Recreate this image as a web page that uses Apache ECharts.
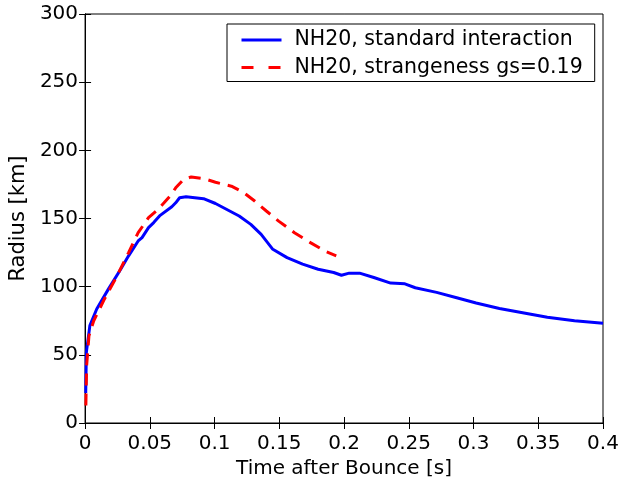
<!DOCTYPE html>
<html>
<head>
<meta charset="utf-8">
<script src="https://cdn.jsdelivr.net/npm/echarts@6/dist/echarts.min.js"></script>
<style>html,body{margin:0;padding:0;background:#fff;}#c{width:623px;height:484px;}</style>
</head>
<body>
<div id="c"></div>
<script>
const xTicks = [0, 0.05, 0.1, 0.15, 0.2, 0.25, 0.3, 0.35, 0.4];
const yTicks = [0, 50, 100, 150, 200, 250, 300];
const seriesNames = ['NH20, standard interaction', 'NH20, strangeness gs=0.19'];

const tStandard = [0.0005, 0.001, 0.0037, 0.009, 0.018, 0.0275, 0.0336, 0.041, 0.044, 0.049, 0.053, 0.058, 0.067, 0.070, 0.073, 0.078, 0.0915, 0.1007, 0.119, 0.128, 0.136, 0.145, 0.156, 0.168, 0.18, 0.192, 0.198, 0.204, 0.212, 0.223, 0.236, 0.247, 0.255, 0.2715, 0.287, 0.302, 0.32, 0.339, 0.357, 0.378, 0.4];
const rStandard = [22, 52, 71.4, 83.6, 98.2, 112.8, 122.6, 133.5, 136, 143.3, 147, 152.3, 158.6, 161.5, 165.2, 166, 164.5, 161, 151.8, 145.7, 138.4, 127.4, 121.3, 116.5, 112.8, 110.4, 108.4, 109.9, 109.9, 106.7, 102.6, 102.1, 99.2, 95.8, 91.9, 88, 84, 80.7, 77.5, 75, 73.1];

const tStrange = [0.0006, 0.0012, 0.003, 0.0067, 0.015, 0.024, 0.0336, 0.041, 0.049, 0.055, 0.061, 0.0656, 0.070, 0.076, 0.082, 0.0915, 0.1007, 0.113, 0.122, 0.131, 0.140, 0.1495, 0.1617, 0.174, 0.186, 0.194];
const rStrange = [12.9, 42, 64, 75, 91, 106.7, 125, 139.6, 150.6, 155.5, 161.5, 166.4, 172.5, 178.6, 180.5, 179.3, 176.6, 173.7, 169.3, 162.8, 155.5, 148.1, 139.6, 132.3, 125.7, 122.6];

const zip = (a, b) => a.map((v, i) => [v, b[i]]);
const FONT = '"DejaVu Sans", Verdana, sans-serif';

const chart = echarts.init(document.getElementById('c'), null, {renderer: 'canvas'});
const axisCommon = {
  axisLine: {show: true, lineStyle: {color: '#000', width: 1}},
  axisTick: {show: true, inside: true, length: 6, lineStyle: {color: '#000'}},
  splitLine: {show: false}
};
chart.setOption({
  animation: false,
  backgroundColor: '#fff',
  grid: {left: 84, right: 20, top: 14, bottom: 60, show: true, borderColor: '#000', borderWidth: 1},
  legend: {
    data: [
      {name: seriesNames[0], itemStyle: {opacity: 0}, lineStyle: {color: '#0000ff', width: 3, type: 'solid'}},
      {name: seriesNames[1], itemStyle: {opacity: 0}, lineStyle: {color: '#ff0000', width: 3, type: [12, 15]}}
    ],
    orient: 'vertical',
    left: 227, top: 24,
    padding: [5, 12, 3, 13],
    borderColor: '#000', borderWidth: 1, borderRadius: 0,
    backgroundColor: '#fff',
    itemWidth: 40, itemHeight: 14, itemGap: 5.5,
    textStyle: {fontSize: 20.5, lineHeight: 22, color: '#000', fontFamily: FONT, padding: [0, 0, 0, 8]}
  },
  xAxis: [
    Object.assign({}, axisCommon, {
      type: 'value', min: xTicks[0], max: xTicks[xTicks.length - 1], interval: xTicks[1] - xTicks[0],
      name: 'Time after Bounce [s]', nameLocation: 'middle', nameGap: 36,
      nameTextStyle: {fontSize: 20, color: '#000', fontFamily: FONT},
      axisLabel: {fontSize: 20, color: '#000', fontFamily: FONT, margin: 11}
    }),
    Object.assign({}, axisCommon, {
      type: 'value', position: 'top', min: xTicks[0], max: xTicks[xTicks.length - 1], interval: xTicks[1] - xTicks[0],
      axisLabel: {show: false}
    })
  ],
  yAxis: [
    Object.assign({}, axisCommon, {
      type: 'value', min: yTicks[0], max: yTicks[yTicks.length - 1], interval: yTicks[1] - yTicks[0],
      name: 'Radius [km]', nameLocation: 'middle', nameGap: 53,
      nameTextStyle: {fontSize: 21, color: '#000', fontFamily: FONT},
      axisLabel: {fontSize: 20, color: '#000', fontFamily: FONT, margin: 7}
    }),
    Object.assign({}, axisCommon, {
      type: 'value', position: 'right', min: yTicks[0], max: yTicks[yTicks.length - 1], interval: yTicks[1] - yTicks[0],
      axisLabel: {show: false}
    })
  ],
  series: [
    {
      name: seriesNames[0], type: 'line', data: zip(tStandard, rStandard),
      showSymbol: false, symbol: 'none', smooth: false,
      lineStyle: {color: '#0000ff', width: 3},
      itemStyle: {color: '#0000ff'}
    },
    {
      name: seriesNames[1], type: 'line', data: zip(tStrange, rStrange),
      showSymbol: false, symbol: 'none', smooth: false,
      lineStyle: {color: '#ff0000', width: 3, type: [12, 8]},
      itemStyle: {color: '#ff0000'}
    }
  ]
});
</script>
</body>
</html>
